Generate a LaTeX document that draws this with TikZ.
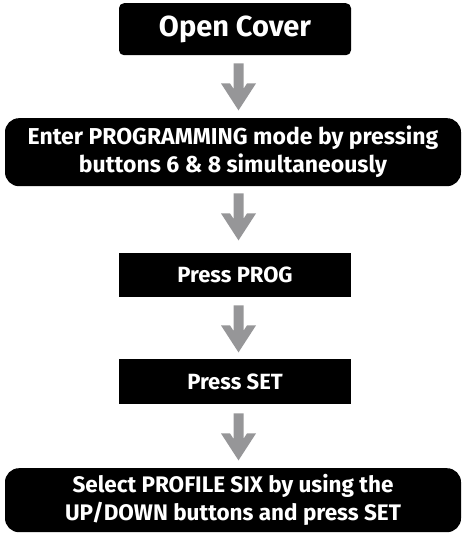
\documentclass[tikz,border=0pt]{standalone}
\usepackage{fontspec}
\setmainfont{Fira Sans}
\definecolor{arrowgray}{RGB}{150,150,152}
\tikzset{
  boxbase/.style={fill=black, text=white, font=\bfseries, align=center, inner sep=0pt, anchor=north},
  narrowbox/.style={boxbase, minimum width=232pt},
  widebox/.style={boxbase, minimum width=456pt, rounded corners=14pt},
  downarrow/.style={fill=arrowgray, draw=none},
}
\newcommand{\flowarrow}[2]{% #1 = top-centre coordinate name, #2 = name
  \fill[downarrow] ([xshift=-5pt]#1) -- ([xshift=5pt]#1) -- ([xshift=5pt,yshift=-25.4pt]#1)
    -- ([xshift=8.5pt,yshift=-20pt]#1) -- ([xshift=17.5pt,yshift=-20pt]#1)
    -- ([yshift=-47pt]#1) coordinate (#2)
    -- ([xshift=-17.5pt,yshift=-20pt]#1) -- ([xshift=-8.5pt,yshift=-20pt]#1)
    -- ([xshift=-5pt,yshift=-25.4pt]#1) -- cycle;}
\begin{document}
\begin{tikzpicture}[x=1pt,y=1pt]
\useasboundingbox (0,0) rectangle (463,-534);
\node[narrowbox, minimum height=52pt, rounded corners=5pt, font=\bfseries\fontsize{29}{34}\selectfont] (b1) at (235,-3) {Open Cover};
\node[widebox, minimum height=68pt, font=\bfseries\fontsize{23}{28}\selectfont] (b2) at (233,-118) {Enter PROGRAMMING mode by pressing\\buttons 6 \& 8 simultaneously};
\node[narrowbox, minimum height=44pt, font=\bfseries\fontsize{22}{27}\selectfont] (b3) at (235,-253) {Press PROG};
\node[narrowbox, minimum height=45pt, font=\bfseries\fontsize{22}{27}\selectfont] (b4) at (235,-359) {Press SET};
\node[widebox, minimum height=64pt, font=\bfseries\fontsize{22.5}{28}\selectfont] (b5) at (233,-468) {Select PROFILE SIX by using the\\UP/DOWN buttons and press SET};
\coordinate (a1) at ([xshift=3.5pt,yshift=-8pt]b1.south);
\coordinate (a2) at ([xshift=5.5pt,yshift=-7pt]b2.south);
\coordinate (a3) at ([xshift=3.5pt,yshift=-8pt]b3.south);
\coordinate (a4) at ([xshift=3.5pt,yshift=-9pt]b4.south);
\flowarrow{a1}{t1}
\flowarrow{a2}{t2}
\flowarrow{a3}{t3}
\flowarrow{a4}{t4}
\end{tikzpicture}
\end{document}
